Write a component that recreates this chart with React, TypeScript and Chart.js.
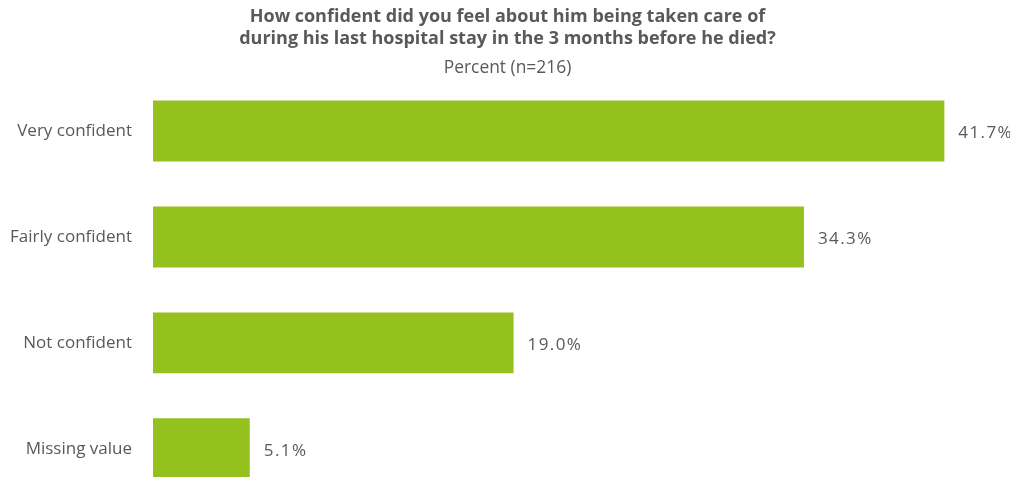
import React, { useEffect, useRef } from "react";
import { Chart, registerables } from "chart.js";

Chart.register(...registerables);

const categories = ["Very confident", "Fairly confident", "Not confident", "Missing value"];
const percentValues = [41.7, 34.3, 19.0, 5.1];
const titleLines = [
  "How confident did you feel about him being taken care of",
  "during his last hospital stay in the 3 months before he died?",
];
const subtitleText = "Percent (n=216)";

const FONT = "'Open Sans', 'Noto Sans', sans-serif";
const TEXT = "#595959";
const BAR = "#95C11F";

const valueLabels = {
  id: "valueLabels",
  afterDatasetsDraw(chart: any) {
    const ctx = chart.ctx;
    const meta = chart.getDatasetMeta(0);
    ctx.save();
    ctx.font = `17px ${FONT}`;
    ctx.fillStyle = TEXT;
    ctx.textAlign = "left";
    ctx.textBaseline = "middle";
    meta.data.forEach((el: any, i: number) => {
      const v = chart.data.datasets[0].data[i] as number;
      const s = v.toFixed(1) + "%";
      let x = el.x + 14;
      for (const ch of s) {
        ctx.fillText(ch, x, el.y + 2);
        x += ctx.measureText(ch).width + 1.4;
      }
    });
    ctx.restore();
  },
};

export default function App() {
  const ref = useRef<HTMLCanvasElement>(null);
  useEffect(() => {
    if (!ref.current) return;
    const chart = new Chart(ref.current, {
      type: "bar",
      data: {
        labels: categories,
        datasets: [
          {
            data: percentValues,
            backgroundColor: BAR,
            borderWidth: 0,
            barPercentage: 0.575,
            categoryPercentage: 1,
          },
        ],
      },
      options: {
        indexAxis: "y",
        animation: false,
        responsive: false,
        maintainAspectRatio: false,
        devicePixelRatio: 1,
        layout: { padding: { top: 0, right: 3, bottom: 5, left: 0 } },
        plugins: {
          legend: { display: false },
          tooltip: { enabled: false },
          title: {
            display: true,
            text: titleLines,
            color: TEXT,
            font: { family: FONT, size: 18, weight: "bold", lineHeight: 1.222 },
            padding: { top: -2, bottom: 4 },
          },
          subtitle: {
            display: true,
            text: subtitleText,
            color: TEXT,
            font: { family: FONT, size: 17.4, lineHeight: 1.15 },
            padding: { top: 4, bottom: 0 },
          },
        },
        scales: {
          x: { display: false, min: 0, max: 45 },
          y: {
            grid: { display: false },
            border: { display: false },
            ticks: {
              color: TEXT,
              font: { family: FONT, size: 17 },
              padding: 13,
            },
            afterFit(scale: any) {
              scale.width = 145;
            },
          },
        },
      },
      plugins: [valueLabels],
    });
    return () => chart.destroy();
  }, []);
  return (
    <div style={{ width: 1002, height: 469, overflow: "hidden" }}>
      <canvas ref={ref} width={1002} height={517} style={{ display: "block" }} />
    </div>
  );
}
